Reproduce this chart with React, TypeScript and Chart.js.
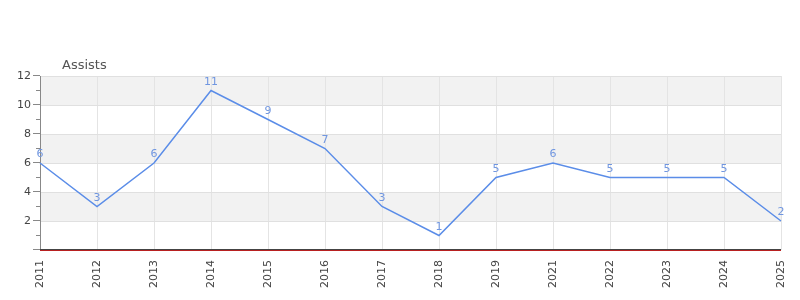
import React, { useEffect, useRef } from "react";
import { Chart, registerables } from "chart.js";

Chart.register(...registerables);

const categories = ["2011", "2012", "2013", "2014", "2015", "2016", "2017", "2018", "2019", "2021", "2022", "2023", "2024", "2025"];
const assists = [6, 3, 6, 11, 9, 7, 3, 1, 5, 6, 5, 5, 5, 2];
const seriesName = "Assists";
const yMin = 0;
const yMax = 12;
const bandRanges = [[2, 4], [6, 8], [10, 12]];

const FONT = "DejaVu Sans";

const decorPlugin = {
  id: "decor",
  beforeDraw(chart: any) {
    const { ctx, chartArea, scales } = chart;
    const y = scales.y;
    ctx.save();
    ctx.fillStyle = "#f2f2f2";
    for (const [a, b] of bandRanges) {
      const top = y.getPixelForValue(b);
      const bot = y.getPixelForValue(a);
      ctx.fillRect(chartArea.left, top, chartArea.right - chartArea.left, bot - top);
    }
    ctx.restore();
  },
  afterDraw(chart: any) {
    const { ctx, chartArea, scales } = chart;
    const y = scales.y;
    ctx.save();
    ctx.strokeStyle = "#888";
    ctx.lineWidth = 1;
    for (let v = yMin; v <= yMax; v++) {
      const py = Math.round(y.getPixelForValue(v)) - 0.5;
      const len = v % 2 === 0 ? 7 : 4;
      ctx.beginPath();
      ctx.moveTo(chartArea.left - len, py);
      ctx.lineTo(chartArea.left, py);
      ctx.stroke();
    }
    const b = Math.round(chartArea.bottom);
    ctx.fillStyle = "#444";
    ctx.fillRect(chartArea.left, b - 1, chartArea.right - chartArea.left, 1);
    ctx.fillStyle = "#b82020";
    ctx.fillRect(chartArea.left, b, chartArea.right - chartArea.left, 1);
    const meta = chart.getDatasetMeta(0);
    ctx.fillStyle = "#7096e0";
    ctx.font = `11px "${FONT}"`;
    ctx.textAlign = "center";
    ctx.textBaseline = "bottom";
    meta.data.forEach((pt: any, i: number) => {
      ctx.fillText(String(assists[i]), pt.x, pt.y - 3);
    });
    ctx.fillStyle = "#555";
    ctx.font = `13px "${FONT}"`;
    ctx.textAlign = "left";
    ctx.textBaseline = "middle";
    ctx.fillText(seriesName, chartArea.left + 22, 66);
    ctx.restore();
  },
};

export default function App() {
  const ref = useRef<HTMLCanvasElement>(null);
  useEffect(() => {
    if (!ref.current) return;
    const chart = new Chart(ref.current, {
      type: "line",
      data: {
        labels: categories,
        datasets: [
          {
            label: seriesName,
            data: assists,
            borderColor: "#5b8de8",
            backgroundColor: "#5b8de8",
            borderWidth: 1.5,
            pointRadius: 0,
            tension: 0,
            fill: false,
          },
        ],
      },
      options: {
        responsive: false,
        animation: false,
        layout: { padding: { top: 76, right: 19, left: 0, bottom: 0 } },
        plugins: {
          legend: { display: false },
          title: { display: false },
          tooltip: { enabled: false },
        },
        scales: {
          x: {
            offset: false,
            grid: { color: "#e4e4e4", drawTicks: false },
            border: { display: false },
            ticks: {
              minRotation: 90,
              maxRotation: 90,
              padding: 10,
              color: "#444",
              font: { family: FONT, size: 11 },
              autoSkip: false,
            },
            afterFit(scale: any) {
              scale.height = 50;
              scale.paddingLeft = 0;
              scale.paddingRight = 0;
            },
          },
          y: {
            min: yMin,
            max: yMax,
            grid: {
              drawTicks: false,
              color: (c: any) => {
                const v = c.tick ? c.tick.value : 0;
                return v % 2 === 0 && v !== 0 ? "#e0e0e0" : "rgba(0,0,0,0)";
              },
            },
            border: { color: "#888", width: 1 },
            ticks: {
              stepSize: 1,
              padding: 9,
              color: "#444",
              font: { family: FONT, size: 11 },
              callback: (v: any) => (v % 2 === 0 && v !== 0 ? String(v) : ""),
            },
            afterFit(scale: any) {
              scale.width = 40;
              scale.paddingTop = 0;
              scale.paddingBottom = 0;
            },
          },
        },
      },
      plugins: [decorPlugin],
    });
    return () => chart.destroy();
  }, []);
  return (
    <div style={{ position: "absolute", left: 0, top: 0, width: 800, height: 300 }}>
      <canvas ref={ref} width={800} height={300} style={{ display: "block" }} />
    </div>
  );
}
